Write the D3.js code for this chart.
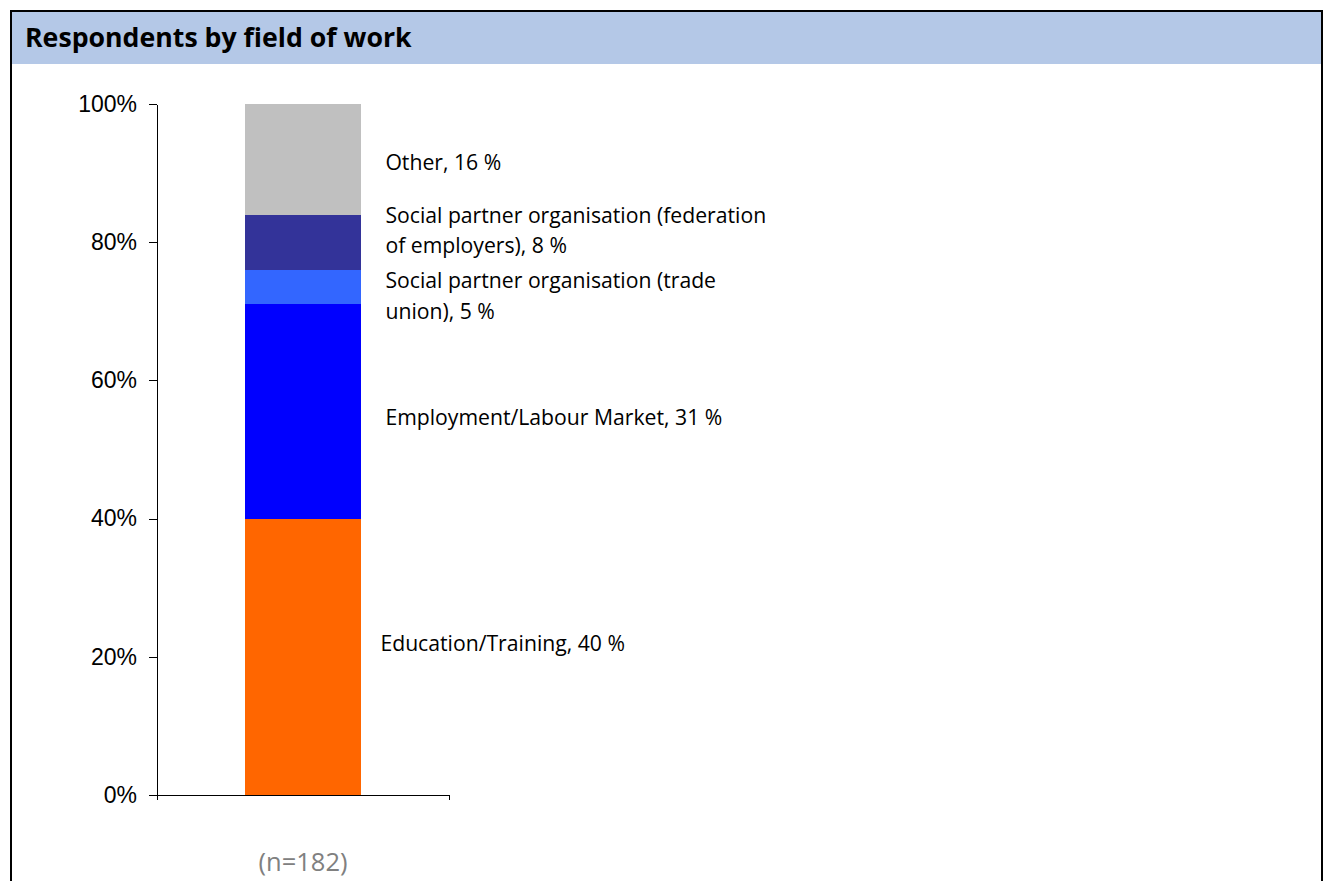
<!DOCTYPE html>
<html>
<head>
<meta charset="utf-8">
<script src="https://cdn.jsdelivr.net/npm/d3@7"></script>
<style>
  html, body { margin: 0; padding: 0; background: #fff; }
  svg { display: block; }
</style>
</head>
<body>
<svg id="chart" width="1326" height="881"></svg>
<script>
// Respondents by field of work, one stacked 100% column
const categories = [
  "Education/Training",
  "Employment/Labour Market",
  "Social partner organisation (trade union)",
  "Social partner organisation (federation of employers)",
  "Other"
];
const shares = [40, 31, 5, 8, 16];
const colors = ["#FF6600", "#0000FF", "#3366FF", "#333399", "#C0C0C0"];
// label text per segment, broken into lines; the value is appended to the last line
const labelLines = [
  ["Education/Training"],
  ["Employment/Labour Market"],
  ["Social partner organisation (trade", "union)"],
  ["Social partner organisation (federation", "of employers)"],
  ["Other"]
];
const columnLabel = "(n=182)";
const yTicks = [0, 20, 40, 60, 80, 100];
const title = "Respondents by field of work";

// label placement: horizontal gap from the column and vertical nudge (px) from segment middle
const labelLayout = [
  { dx: 19, dy: -13 },
  { dx: 24, dy: 6 },
  { dx: 24, dy: 9 },
  { dx: 24, dy: -12 },
  { dx: 24, dy: 3 }
];

const FONT = "'Open Sans', 'Noto Sans', sans-serif";
const svg = d3.select("#chart");
const W = 1326, H = 881;
const plot = { left: 157, right: 449, top: 104, bottom: 795 };

// frame and header band
svg.append("rect")
  .attr("x", 12).attr("y", 12).attr("width", 1309).attr("height", 52)
  .attr("fill", "#B4C8E7");
svg.append("rect")
  .attr("x", 11).attr("y", 11).attr("width", 1311).attr("height", H + 20)
  .attr("fill", "none").attr("stroke", "#000").attr("stroke-width", 2);
svg.append("text")
  .attr("x", 25).attr("y", 47)
  .attr("font-family", FONT)
  .attr("font-weight", 700)
  .attr("font-size", 26.7)
  .attr("fill", "#000")
  .text(title);

const y = d3.scaleLinear().domain([0, 100]).range([plot.bottom, plot.top]);
const x = d3.scaleBand().domain([columnLabel])
  .range([plot.left, plot.right])
  .paddingInner(0.6).paddingOuter(0.3);

// stack the shares into one column
const row = {};
categories.forEach((c, i) => { row[c] = shares[i]; });
const series = d3.stack().keys(categories)([row]);

svg.append("g")
  .selectAll("rect")
  .data(series)
  .join("rect")
  .attr("x", x(columnLabel))
  .attr("width", x.bandwidth())
  .attr("y", d => y(d[0][1]))
  .attr("height", d => y(d[0][0]) - y(d[0][1]))
  .attr("fill", (d, i) => colors[i])
  .attr("shape-rendering", "crispEdges");

// axes
const yAxis = svg.append("g")
  .attr("transform", `translate(${plot.left},0)`)
  .call(d3.axisLeft(y).tickValues(yTicks).tickFormat(d => d + "%")
    .tickSizeInner(8).tickSizeOuter(0).tickPadding(12));
yAxis.selectAll("path, line").attr("stroke", "#000").attr("shape-rendering", "crispEdges");
yAxis.selectAll("text")
  .attr("font-family", "'Liberation Sans', Arial, sans-serif")
  .attr("font-size", 23)
  .attr("fill", "#000");

const xAxis = svg.append("g")
  .attr("transform", `translate(0,${plot.bottom})`)
  .call(d3.axisBottom(x).tickSizeInner(0).tickSizeOuter(5).tickPadding(58));
xAxis.selectAll("path, line").attr("stroke", "#000").attr("shape-rendering", "crispEdges");
xAxis.selectAll("text")
  .attr("font-family", FONT)
  .attr("font-size", 25.5)
  .attr("fill", "#808080");

// segment labels
const labels = svg.append("g")
  .attr("font-family", FONT)
  .attr("font-size", 21.2)
  .attr("fill", "#000");
series.forEach((s, i) => {
  const lines = labelLines[i].slice();
  lines[lines.length - 1] += `, ${shares[i]} %`;
  const lh = 30.5;
  const lx = x(columnLabel) + x.bandwidth() + labelLayout[i].dx;
  const mid = y((s[0][0] + s[0][1]) / 2) + labelLayout[i].dy;
  const t = labels.append("text")
    .attr("x", lx)
    .attr("y", mid - (lines.length - 1) * lh / 2);
  lines.forEach((ln, j) => {
    t.append("tspan")
      .attr("x", lx)
      .attr("dy", j === 0 ? "0.36em" : lh)
      .text(ln);
  });
});
</script>
</body>
</html>
